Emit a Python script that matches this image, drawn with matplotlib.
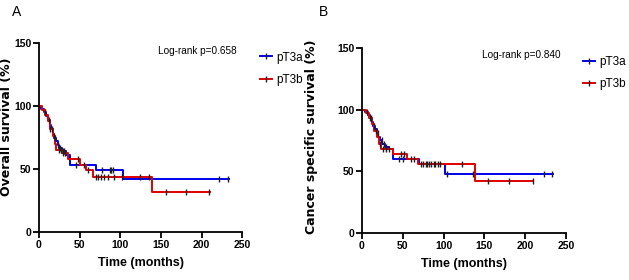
import numpy as np
import matplotlib
matplotlib.use("Agg")
import matplotlib.pyplot as plt
from matplotlib import font_manager
from matplotlib.lines import Line2D

# pick a narrow sans if available (GraphPad-style labels)
names = {f.name for f in font_manager.fontManager.ttflist}
narrow = "Liberation Sans Narrow" if "Liberation Sans Narrow" in names else "Liberation Sans"
plt.rcParams["font.family"] = [narrow, "DejaVu Sans"]

# (DATA) Kaplan-Meier steps
# panel A - overall survival
a_blue_time = [0, 3, 6, 9, 11, 13, 15, 17, 19, 21, 23, 25, 28, 33, 38, 70, 103, 234]
a_blue_surv = [100, 98, 95, 92, 89, 85, 82, 78, 75, 72, 69, 67, 64, 61, 53, 49, 42, 42]
a_blue_cens = [8, 12, 16, 20, 23, 26, 29, 31, 45, 55, 78, 87, 89, 91, 222, 233]
a_red_time = [0, 4, 8, 11, 14, 17, 20, 21, 28, 36, 50, 58, 67, 139, 210]
a_red_surv = [100, 97, 93, 88, 82, 76, 70, 65, 63, 58, 53, 49, 44, 32, 32]
a_red_cens = [14, 18, 24, 27, 30, 32, 48, 60, 70, 72, 76, 80, 85, 92, 102, 124, 135, 156, 181, 209]

# panel B - cancer specific survival
b_blue_time = [0, 4, 7, 10, 12, 14, 16, 18, 20, 22, 25, 28, 33, 38, 70, 102, 234]
b_blue_surv = [100, 98, 96, 93, 90, 87, 84, 81, 78, 75, 72, 70, 68, 60, 56, 48, 48]
b_blue_cens = [6, 11, 15, 19, 24, 27, 30, 33, 45, 50, 72, 75, 78, 80, 85, 88, 90, 93, 104, 136, 223, 233]
b_red_time = [0, 5, 9, 12, 15, 18, 21, 23, 38, 55, 68, 139, 210]
b_red_surv = [100, 97, 93, 88, 83, 78, 72, 68, 64, 60, 56, 42, 42]
b_red_cens = [10, 17, 22, 26, 29, 48, 52, 60, 64, 82, 95, 123, 154, 180, 209]

groups = ["pT3a", "pT3b"]
blue = "#0000ee"
red = "#e00000"


def surv_at(times, surv, t):
    i = np.searchsorted(times, t, side="right") - 1
    return np.asarray(surv)[i]


def km_panel(ax, bt, bs, bc, rt, rs, rc, ylabel, ptext, ylab_xy, leg_xy):
    for t, s, c, col in [(bt, bs, bc, blue), (rt, rs, rc, red)]:
        ax.step(t, s, where="post", color=col, lw=1.4, zorder=2)
        ax.plot(c, surv_at(t, s, c), ls="none", marker="|", ms=4.5, mew=1.0,
                color="#202020", zorder=3)
    ax.set_xlim(0, 250)
    ax.set_ylim(0, 150)
    ax.set_xticks([0, 50, 100, 150, 200, 250])
    ax.set_yticks([0, 50, 100, 150])
    for sp in ["top", "right"]:
        ax.spines[sp].set_visible(False)
    for sp in ["left", "bottom"]:
        ax.spines[sp].set_linewidth(1.3)
    ax.tick_params(width=1.3, length=4, labelsize=7.5, pad=1.5)
    for lab in ax.get_xticklabels() + ax.get_yticklabels():
        lab.set_fontweight("bold")
    ax.set_xlabel("Time (months)", fontsize=9, fontweight="bold", labelpad=5)
    ax.set_ylabel(ylabel, fontsize=9, fontweight="bold", family="DejaVu Sans")
    ax.yaxis.set_label_coords(*ylab_xy)
    ax.text(0.78, 0.96, ptext, transform=ax.transAxes, ha="center", va="center",
            fontsize=7.2)
    handles = [Line2D([], [], color=blue, lw=1.4, marker="|", ms=4, mec="#202020"),
               Line2D([], [], color=red, lw=1.4, marker="|", ms=4, mec="#202020")]
    ax.legend(handles, groups, loc="upper left", bbox_to_anchor=leg_xy,
              frameon=False, fontsize=8.5, handlelength=1.0, handletextpad=0.35,
              labelspacing=0.85, borderaxespad=0, markerfirst=True)


fig = plt.figure(figsize=(6.29, 2.80), dpi=100)
ax1 = fig.add_axes([0.062, 0.171, 0.323, 0.675])
ax2 = fig.add_axes([0.5755, 0.168, 0.3245, 0.661])

km_panel(ax1, a_blue_time, a_blue_surv, a_blue_cens, a_red_time, a_red_surv, a_red_cens,
         "Overall survival (%)", "Log-rank p=0.658", (-0.128, 0.56), (1.065, 0.98))
km_panel(ax2, b_blue_time, b_blue_surv, b_blue_cens, b_red_time, b_red_surv, b_red_cens,
         "Cancer specific survival (%)", "Log-rank p=0.840", (-0.216, 0.52), (1.06, 0.98))

fig.text(0.019, 0.957, "A", fontsize=10, ha="left", va="center")
fig.text(0.507, 0.957, "B", fontsize=10, ha="left", va="center")

fig.savefig("out.png", dpi=100)
